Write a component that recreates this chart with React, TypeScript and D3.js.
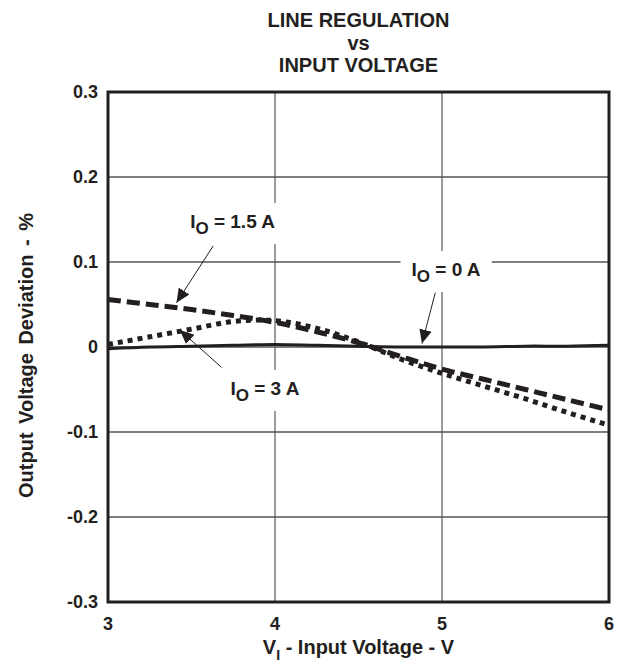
import React, { useEffect, useRef } from 'react';
import * as d3 from 'd3';

// input voltage (V)
const voltage = [3, 3.25, 3.5, 3.75, 4, 4.25, 4.5, 4.75, 5, 5.25, 5.5, 5.75, 6];
// output voltage deviation (%)
const io0A = [-0.002, 0, 0.001, 0.002, 0.003, 0.002, 0.001, 0, 0, 0, 0.001, 0.001, 0.002];
const io15A = [0.056, 0.050, 0.044, 0.037, 0.029, 0.018, 0.005, -0.011, -0.026, -0.038, -0.050, -0.062, -0.074];
const io3A = [0.003, 0.012, 0.021, 0.030, 0.031, 0.022, 0.006, -0.014, -0.031, -0.046, -0.061, -0.077, -0.092];

const xTicks = [3, 4, 5, 6];
const yTicks = [-0.3, -0.2, -0.1, 0, 0.1, 0.2, 0.3];
const yTickLabels = ['-0.3', '-0.2', '-0.1', '0', '0.1', '0.2', '0.3'];

// label text pos + arrow (from -> to) in data units
const labels = [
  { cur: '1.5 A', x: 3.746, y: 0.140, ax: 3.63, ay: 0.119, bx: 3.41, by: 0.052 },
  { cur: '3 A', x: 3.94, y: -0.0565, ax: 3.68, ay: -0.024, bx: 3.43, by: 0.020 },
  { cur: '0 A', x: 5.024, y: 0.0835, ax: 4.96, ay: 0.064, bx: 4.88, by: 0.004 },
];

const ink = '#231f20';
const font = '"Liberation Sans", Arial, sans-serif';

export default function App() {
  const ref = useRef<SVGSVGElement>(null);

  useEffect(() => {
    const W = 628, H = 664;
    const m = { left: 108, right: 609, top: 92, bottom: 602 };
    const svg = d3.select(ref.current);
    svg.selectAll('*').remove();

    const x = d3.scaleLinear().domain([3, 6]).range([m.left, m.right]);
    const y = d3.scaleLinear().domain([-0.3, 0.3]).range([m.bottom, m.top]);

    svg.append('rect').attr('width', W).attr('height', H).attr('fill', '#fff');

    svg.append('defs').append('marker')
      .attr('id', 'head')
      .attr('viewBox', '0 0 10 10')
      .attr('refX', 10).attr('refY', 5)
      .attr('markerWidth', 14).attr('markerHeight', 14)
      .attr('markerUnits', 'userSpaceOnUse')
      .attr('orient', 'auto')
      .append('path').attr('d', 'M0,0.5 L10,5 L0,9.5 Z').attr('fill', ink);

    // title
    const title = ['LINE REGULATION', 'vs', 'INPUT VOLTAGE'];
    svg.selectAll('text.title').data(title).enter().append('text')
      .attr('x', (m.left + m.right) / 2)
      .attr('y', (d, i) => 27 + i * 22.5)
      .attr('text-anchor', 'middle')
      .attr('font-family', font).attr('font-weight', 'bold').attr('font-size', 20)
      .attr('fill', ink)
      .text(d => d);

    // grid
    svg.selectAll('line.gx').data(xTicks.slice(1, -1)).enter().append('line')
      .attr('x1', d => x(d)).attr('x2', d => x(d))
      .attr('y1', m.top).attr('y2', m.bottom)
      .attr('stroke', '#666').attr('stroke-width', 1.3);
    svg.selectAll('line.gy').data(yTicks.slice(1, -1)).enter().append('line')
      .attr('x1', m.left).attr('x2', m.right)
      .attr('y1', d => y(d)).attr('y2', d => y(d))
      .attr('stroke', '#555').attr('stroke-width', 1.3);

    // curves
    const line = d3.line<number>()
      .x((d, i) => x(voltage[i]))
      .y(d => y(d))
      .curve(d3.curveCatmullRom);

    svg.append('path').attr('d', line(io0A)!)
      .attr('fill', 'none').attr('stroke', ink).attr('stroke-width', 3);
    svg.append('path').attr('d', line(io3A)!)
      .attr('fill', 'none').attr('stroke', ink).attr('stroke-width', 5)
      .attr('stroke-dasharray', '5 5');
    svg.append('path').attr('d', line(io15A)!)
      .attr('fill', 'none').attr('stroke', ink).attr('stroke-width', 5)
      .attr('stroke-dasharray', '13 6');

    // frame
    svg.append('rect')
      .attr('x', m.left).attr('y', m.top)
      .attr('width', m.right - m.left).attr('height', m.bottom - m.top)
      .attr('fill', 'none').attr('stroke', ink).attr('stroke-width', 3);

    // annotations
    labels.forEach(l => {
      const g = svg.append('g');
      const bg = g.append('rect').attr('fill', '#fff');
      const t = g.append('text')
        .attr('x', x(l.x)).attr('y', y(l.y))
        .attr('text-anchor', 'middle')
        .attr('font-family', font).attr('font-weight', 'bold').attr('font-size', 19)
        .attr('fill', ink);
      t.append('tspan').text('I');
      t.append('tspan').attr('dy', 6).attr('font-size', 17).text('O');
      t.append('tspan').attr('dy', -6).text(' = ' + l.cur);
      const bb = (t.node() as SVGTextElement).getBBox();
      bg.attr('x', bb.x - 11).attr('y', bb.y - 8)
        .attr('width', bb.width + 22).attr('height', bb.height + 14);
      svg.append('line')
        .attr('x1', x(l.ax)).attr('y1', y(l.ay))
        .attr('x2', x(l.bx)).attr('y2', y(l.by))
        .attr('stroke', ink).attr('stroke-width', 1)
        .attr('marker-end', 'url(#head)');
    });

    // tick labels
    svg.selectAll('text.yt').data(yTicks).enter().append('text')
      .attr('x', m.left - 10).attr('y', d => y(d) + 6)
      .attr('text-anchor', 'end')
      .attr('font-family', font).attr('font-weight', 'bold').attr('font-size', 18)
      .attr('fill', ink)
      .text((d, i) => yTickLabels[i]);
    svg.selectAll('text.xt').data(xTicks).enter().append('text')
      .attr('x', d => x(d)).attr('y', m.bottom + 28)
      .attr('text-anchor', 'middle')
      .attr('font-family', font).attr('font-weight', 'bold').attr('font-size', 18)
      .attr('fill', ink)
      .text(d => String(d));

    // axis titles
    const xt = svg.append('text')
      .attr('x', (m.left + m.right) / 2).attr('y', m.bottom + 52)
      .attr('text-anchor', 'middle')
      .attr('font-family', font).attr('font-weight', 'bold').attr('font-size', 20)
      .attr('fill', ink);
    xt.append('tspan').text('V');
    xt.append('tspan').attr('dy', 6).attr('font-size', 14).text('I');
    xt.append('tspan').attr('dy', -6).text(' - Input Voltage - V');

    svg.append('text')
      .attr('transform', `translate(33,${y(-0.01)}) rotate(-90)`)
      .attr('text-anchor', 'middle')
      .attr('font-family', font).attr('font-weight', 'bold').attr('font-size', 20)
      .attr('word-spacing', 3)
      .attr('fill', ink)
      .text('Output Voltage Deviation - %');
  }, []);

  return (
    <svg ref={ref} width={628} height={664}
      style={{ position: 'absolute', left: 0, top: 0, display: 'block' }} />
  );
}
